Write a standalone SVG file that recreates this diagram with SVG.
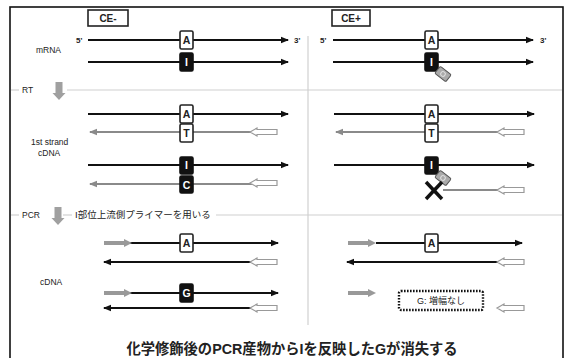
<svg xmlns="http://www.w3.org/2000/svg" xmlns:xlink="http://www.w3.org/1999/xlink" width="566" height="358" viewBox="0 0 566 358">
<style>
.lbl{font-family:"Liberation Sans",Arial,sans-serif;font-size:8.5px;fill:#222}
.end{font-family:"Liberation Sans",Arial,sans-serif;font-size:8px;font-weight:bold;fill:#222}
.ce{font-family:"Liberation Sans",Arial,sans-serif;font-size:10px;font-weight:bold;fill:#222}
.jp{font-family:"Liberation Sans","Noto Sans CJK JP",sans-serif;fill:#222}
.base{font-family:"Liberation Sans",Arial,sans-serif;font-size:10.5px;font-weight:bold;text-anchor:middle}
.wb{fill:#fff;stroke:#222;stroke-width:1.6}
.bb{fill:#111;stroke:#111;stroke-width:1.6}
.st{stroke:#111;stroke-width:2;fill:none}
.sg{stroke:#8a8a8a;stroke-width:2;fill:none}
.sep{stroke:#d0d0d0;stroke-width:1.2;fill:none}
.hol{fill:#fff;stroke:#999;stroke-width:1.2}
.pri{fill:#999}
.dn{fill:#a0a0a0}
</style>
<defs>
<marker id="ah" markerWidth="8" markerHeight="8" refX="7" refY="4" orient="auto" markerUnits="userSpaceOnUse"><path d="M0,0.8 L8,4 L0,7.2 z" fill="#111"/></marker>
<marker id="ahg" markerWidth="8" markerHeight="8" refX="7" refY="4" orient="auto" markerUnits="userSpaceOnUse"><path d="M0,0.8 L8,4 L0,7.2 z" fill="#8a8a8a"/></marker>
<path id="hollow" d="M0,0 L7,-4 L7,-2.5 L27,-2.5 L27,2.5 L7,2.5 L7,4 z" class="hol"/>
<path id="primer" d="M0,-2 L20,-2 L20,-4 L28,0 L20,4 L20,2 L0,2 z" class="pri"/>
<path id="down" d="M-3.5,0 L3.5,0 L3.5,11 L6.5,11 L0,18 L-6.5,11 L-3.5,11 z" class="dn"/>
<g id="tag"><rect x="-7" y="-4.5" width="14" height="9" rx="1.5" fill="#aaa" stroke="#555" stroke-width="1"/><circle cx="0" cy="0" r="2.3" fill="none" stroke="#ddd" stroke-width="1"/></g>
</defs>

<rect x="10" y="7" width="553" height="360" fill="#fff" stroke="#111" stroke-width="1.6"/>

<g id="separators">
<line class="sep" x1="308" y1="36" x2="308" y2="325"/>
<line class="sep" x1="11" y1="90" x2="19" y2="90"/>
<line class="sep" x1="67" y1="90" x2="562" y2="90"/>
<line class="sep" x1="11" y1="215" x2="19" y2="215"/>
<line class="sep" x1="63" y1="215" x2="72" y2="215"/>
<line class="sep" x1="216" y1="215" x2="562" y2="215"/>
</g>

<g id="header-ce-minus"><rect x="88" y="10" width="40" height="16" fill="#fff" stroke="#222" stroke-width="1.6"/><text class="ce" x="108" y="22" text-anchor="middle">CE-</text></g>
<g id="header-ce-plus"><rect x="332" y="10" width="38" height="16" fill="#fff" stroke="#222" stroke-width="1.6"/><text class="ce" x="351" y="22" text-anchor="middle">CE+</text></g>

<g id="labels">
<text class="lbl" x="36" y="53">mRNA</text>
<text class="lbl" x="22" y="93">RT</text>
<text class="lbl" x="31" y="145">1st strand</text>
<text class="lbl" x="38" y="156">cDNA</text>
<text class="lbl" x="22" y="218">PCR</text>
<text class="jp" x="75" y="218" font-size="9.5">I部位上流側プライマーを用いる</text>
<text class="lbl" x="40" y="285">cDNA</text>
<text class="end" x="76" y="43">5'</text>
<text class="end" x="294" y="43">3'</text>
<text class="end" x="320" y="43">5'</text>
<text class="end" x="540" y="43">3'</text>
</g>
<use href="#down" x="59" y="82"/>
<use href="#down" x="58" y="207"/>

<g id="connectors">
<line class="st" x1="88" y1="40" x2="288" y2="40" marker-end="url(#ah)"/>
<line class="st" x1="88" y1="62" x2="288" y2="62" marker-end="url(#ah)"/>
<line class="st" x1="333" y1="40" x2="533" y2="40" marker-end="url(#ah)"/>
<line class="st" x1="333" y1="62" x2="533" y2="62" marker-end="url(#ah)"/>
<line class="st" x1="88" y1="114" x2="288" y2="114" marker-end="url(#ah)"/>
<line class="sg" x1="252" y1="132" x2="90" y2="132" marker-end="url(#ahg)"/>
<line class="st" x1="88" y1="165" x2="288" y2="165" marker-end="url(#ah)"/>
<line class="sg" x1="252" y1="184" x2="90" y2="184" marker-end="url(#ahg)"/>
<line class="st" x1="334" y1="114" x2="534" y2="114" marker-end="url(#ah)"/>
<line class="sg" x1="498" y1="132" x2="336" y2="132" marker-end="url(#ahg)"/>
<line class="st" x1="334" y1="165" x2="534" y2="165" marker-end="url(#ah)"/>
<line class="sg" x1="498" y1="190" x2="443" y2="190"/>
<line class="st" x1="130" y1="243" x2="278" y2="243" marker-end="url(#ah)"/>
<line class="st" x1="252" y1="262" x2="104" y2="262" marker-end="url(#ah)"/>
<line class="st" x1="130" y1="293" x2="278" y2="293" marker-end="url(#ah)"/>
<line class="st" x1="252" y1="308" x2="104" y2="308" marker-end="url(#ah)"/>
<line class="st" x1="376" y1="243" x2="522" y2="243" marker-end="url(#ah)"/>
<line class="st" x1="498" y1="262" x2="347" y2="262" marker-end="url(#ah)"/>
</g>

<g id="primers">
<use href="#hollow" x="250" y="132"/>
<use href="#hollow" x="250" y="183"/>
<use href="#hollow" x="497" y="132"/>
<use href="#hollow" x="497" y="190"/>
<use href="#hollow" x="250" y="262"/>
<use href="#hollow" x="250" y="308"/>
<use href="#hollow" x="497" y="262"/>
<use href="#hollow" x="497" y="308"/>
<use href="#primer" x="104" y="243"/>
<use href="#primer" x="104" y="293"/>
<use href="#primer" x="348" y="243"/>
<use href="#primer" x="348" y="293"/>
</g>

<g id="bases">
<g id="l-m-A"><rect class="wb" x="180" y="31" width="13" height="18" rx="1.5"/><text class="base" x="186.5" y="44" fill="#222">A</text></g>
<g id="l-m-I"><rect class="bb" x="180" y="53" width="13" height="18" rx="1.5"/><text class="base" x="186.5" y="66" fill="#fff">I</text></g>
<g id="r-m-A"><rect class="wb" x="425" y="31" width="13" height="18" rx="1.5"/><text class="base" x="431.5" y="44" fill="#222">A</text></g>
<g id="r-m-I"><rect class="bb" x="425" y="53" width="13" height="18" rx="1.5"/><text class="base" x="431.5" y="66" fill="#fff">I</text></g>
<use href="#tag" transform="translate(443,74) rotate(38)"/>

<g id="l-1-A"><rect class="wb" x="180" y="105" width="13" height="18" rx="1.5"/><text class="base" x="186.5" y="118" fill="#222">A</text></g>
<g id="l-1-T"><rect class="wb" x="180" y="124" width="13" height="18" rx="1.5"/><text class="base" x="186.5" y="137" fill="#222">T</text></g>
<g id="l-1-I"><rect class="bb" x="180" y="157" width="13" height="17" rx="1.5"/><text class="base" x="186.5" y="169" fill="#fff">I</text></g>
<g id="l-1-C"><rect class="bb" x="180" y="176" width="13" height="17" rx="1.5"/><text class="base" x="186.5" y="188.5" fill="#fff">C</text></g>

<g id="r-1-A"><rect class="wb" x="425" y="105" width="13" height="18" rx="1.5"/><text class="base" x="431.5" y="118" fill="#222">A</text></g>
<g id="r-1-T"><rect class="wb" x="425" y="124" width="13" height="18" rx="1.5"/><text class="base" x="431.5" y="137" fill="#222">T</text></g>
<g id="r-1-I"><rect class="bb" x="425" y="157" width="13" height="17" rx="1.5"/><text class="base" x="431.5" y="169" fill="#fff">I</text></g>
<use href="#tag" transform="translate(443,178) rotate(38)"/>
<g id="stop"><line x1="426" y1="182" x2="442" y2="199" stroke="#111" stroke-width="3.5"/><line x1="426" y1="199" x2="442" y2="182" stroke="#111" stroke-width="3.5"/></g>

<g id="l-p-A"><rect class="wb" x="180" y="234" width="13" height="18" rx="1.5"/><text class="base" x="186.5" y="247" fill="#222">A</text></g>
<g id="l-p-G"><rect class="bb" x="180" y="284" width="13" height="18" rx="1.5"/><text class="base" x="186.5" y="297" fill="#fff">G</text></g>
<g id="r-p-A"><rect class="wb" x="425" y="234" width="13" height="18" rx="1.5"/><text class="base" x="431.5" y="247" fill="#222">A</text></g>
<g id="r-p-none"><rect x="399" y="291" width="84" height="19" rx="2" fill="#fff" stroke="#111" stroke-width="2.4" stroke-dasharray="1.6,1.4"/><text class="jp" x="441" y="304" font-size="9" text-anchor="middle">G: 増幅なし</text></g>
</g>

<text class="jp" x="292" y="354" font-size="14.3" font-weight="bold" text-anchor="middle">化学修飾後のPCR産物からIを反映したGが消失する</text>
</svg>
